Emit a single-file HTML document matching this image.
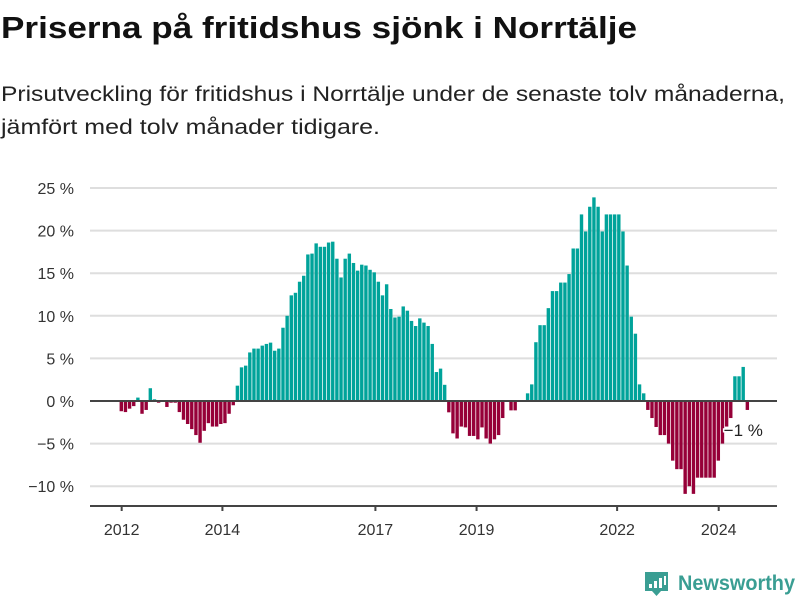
<!DOCTYPE html>
<html><head><meta charset="utf-8"><style>
body{margin:0;width:800px;height:600px;background:#fff;font-family:"Liberation Sans",sans-serif;overflow:hidden;position:relative}
svg{position:absolute;left:0;top:0}
</style></head><body>
<svg width="800" height="160">
 <text x="1" y="38" font-size="31" font-weight="bold" fill="#111" textLength="636" lengthAdjust="spacingAndGlyphs" font-family="Liberation Sans, sans-serif">Priserna på fritidshus sjönk i Norrtälje</text>
 <text x="1" y="101" font-size="21" fill="#222" textLength="784" lengthAdjust="spacingAndGlyphs" font-family="Liberation Sans, sans-serif">Prisutveckling för fritidshus i Norrtälje under de senaste tolv månaderna,</text>
 <text x="1" y="134" font-size="21" fill="#222" textLength="379" lengthAdjust="spacingAndGlyphs" font-family="Liberation Sans, sans-serif">jämfört med tolv månader tidigare.</text>
</svg>
<svg id="chart" width="800" height="600"></svg>
<script>
const values=[-1.2,-1.3,-0.9,-0.6,0.4,-1.5,-1.05,1.5,0.2,-0.2,0,-0.7,-0.2,-0.2,-1.3,-2.2,-2.7,-3.3,-4.0,-4.9,-3.5,-2.6,-3.0,-3.0,-2.7,-2.6,-1.5,-0.5,
1.8,3.95,4.15,5.7,6.15,6.15,6.5,6.7,6.85,5.9,6.15,8.6,10.0,12.4,12.7,14.0,14.7,17.2,17.3,18.5,18.1,18.1,18.6,18.7,16.7,14.5,16.7,17.3,16.2,15.3,16.0,15.9,15.4,15.1,14.0,12.4,13.7,10.8,9.8,9.9,11.1,10.6,9.4,8.8,9.7,9.2,8.8,6.7,3.4,3.8,1.9,
-1.33,-3.8,-4.4,-3.0,-3.1,-4.1,-4.1,-4.5,-3.1,-4.4,-5.0,-4.5,-4.0,-2.0,0,-1.1,-1.1,0,0,0.9,1.95,6.9,8.9,8.9,10.9,12.9,12.9,13.9,13.9,14.9,17.9,17.9,21.9,19.9,22.8,23.9,22.8,19.9,21.9,21.9,21.9,21.9,19.9,15.9,9.9,7.9,1.95,0.9,
-1.05,-2.0,-3.05,-4.0,-4.0,-5.0,-7.0,-8.0,-8.0,-10.9,-10.0,-10.9,-9,-9,-9,-9,-9,-7.0,-5.0,-3.0,-2.0,2.9,2.9,4.0,-1.05];
const yTicks=[25,20,15,10,5,0,-5,-10];
const xTickLabels=["2012","2014","2017","2019","2022","2024"];
const xTickIndex=[0.5,24.8,61.7,86.1,120,144.5];
const lastLabel="−1 %";
const NS="http://www.w3.org/2000/svg";
const svg=document.getElementById('chart');
const y=v=>401-v*8.52;
const x=i=>119.6+i*4.146;
function mk(t,a,p){const e=document.createElementNS(NS,t);for(const k in a)e.setAttribute(k,a[k]);(p||svg).appendChild(e);return e;}
yTicks.forEach(v=>{
 if(v!==0){const g=mk('line',{x1:90,x2:777,y1:y(v),y2:y(v),stroke:'#dedede','stroke-width':2});
 
 }
 const t=mk('text',{x:74,y:y(v)+6,'text-anchor':'end','font-size':16,fill:'#333','font-family':'Liberation Sans, sans-serif'});
 t.textContent=(v<0?'−'+(-v):v)+' %';
 
 
});
values.forEach((v,i)=>{
 const r=mk('rect',{x:x(i),width:3.4,y:v>=0?y(v):y(0),height:Math.abs(v)*8.52,fill:v>=0?'#00a39a':'#960038'});
 
 
});
const z=mk('line',{x1:90,x2:777,y1:y(0),y2:y(0),stroke:'#444','stroke-width':2});


const ax=mk('line',{x1:90,x2:777,y1:506,y2:506,stroke:'#444','stroke-width':2});


xTickLabels.forEach((l,k)=>{
 const px=x(xTickIndex[k]);
 const tk=mk('line',{x1:px,x2:px,y1:506,y2:511,stroke:'#444','stroke-width':2});
 
 
 const t=mk('text',{x:px,y:535,'text-anchor':'middle','font-size':16,fill:'#333','font-family':'Liberation Sans, sans-serif'});
 t.textContent=l;
 
 
});
const li=values.length-1;
const lb=mk('text',{x:x(li)-22,y:y(values[li])+26,'font-size':17,fill:'#222','font-family':'Liberation Sans, sans-serif',stroke:'#fff','stroke-width':3,'paint-order':'stroke'});
lb.textContent=lastLabel;


</script>
<svg width="800" height="600" style="pointer-events:none">
 <path d="M645 572h23v19h-7l-4.5 5l-4.5-5h-7z" fill="#3a9e93"/>
 <rect x="649" y="584" width="3" height="4" fill="#fff"/>
 <rect x="654" y="581" width="3" height="7" fill="#fff"/>
 <rect x="659" y="578" width="3" height="10" fill="#fff"/>
 <rect x="664" y="576" width="2" height="9" fill="#fff"/>
 <text x="678" y="590" font-size="21" font-weight="bold" fill="#3a9e93" textLength="117" lengthAdjust="spacingAndGlyphs" font-family="Liberation Sans, sans-serif">Newsworthy</text>
</svg>
</body></html>
